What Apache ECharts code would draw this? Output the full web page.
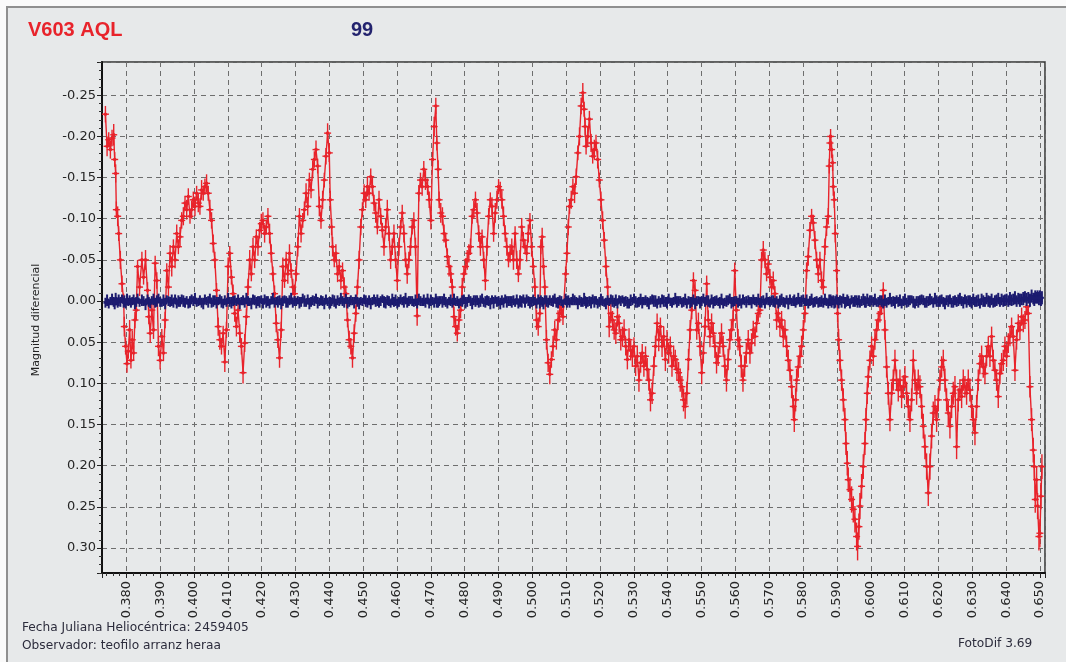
<!DOCTYPE html>
<html>
<head>
<meta charset="utf-8">
<script src="https://cdn.jsdelivr.net/npm/echarts@6/dist/echarts.min.js"></script>
<style>
  html, body { margin: 0; padding: 0; background: #fafafa; }
  #chart { width: 1066px; height: 662px; }
</style>
</head>
<body>
<div id="chart"></div>
<script>
// Heliocentric Julian Date (fraction of day after 2459405) of each frame
const jd = [
  .37383,.37432,.37481,.37530,.37579,.37628,.37657,.37686,.37706,.37745,
  .37775,.37824,.37873,.37922,.37941,.37980,.38020,.38059,.38098,.38137,
  .38176,.38216,.38255,.38294,.38333,.38392,.38461,.38510,.38568,.38627,
  .38666,.38706,.38755,.38804,.38853,.38902,.38951,.39000,.39049,.39098,
  .39147,.39196,.39245,.39294,.39343,.39392,.39441,.39490,.39539,.39588,
  .39637,.39686,.39735,.39784,.39833,.39882,.39931,.39980,.40029,.40078,
  .40127,.40176,.40225,.40274,.40323,.40372,.40421,.40470,.40519,.40568,
  .40617,.40666,.40715,.40764,.40813,.40862,.40911,.40960,.41009,.41058,
  .41107,.41156,.41205,.41254,.41303,.41352,.41401,.41450,.41499,.41548,
  .41597,.41646,.41695,.41744,.41793,.41842,.41891,.41940,.41989,.42038,
  .42087,.42136,.42185,.42234,.42283,.42332,.42381,.42430,.42479,.42528,
  .42577,.42626,.42675,.42724,.42773,.42822,.42871,.42920,.42969,.43018,
  .43067,.43116,.43165,.43214,.43263,.43312,.43361,.43410,.43459,.43508,
  .43557,.43606,.43655,.43704,.43753,.43802,.43851,.43900,.43949,.43998,
  .44027,.44067,.44096,.44145,.44194,.44243,.44292,.44341,.44390,.44439,
  .44488,.44537,.44586,.44635,.44684,.44733,.44782,.44831,.44880,.44929,
  .44978,.45027,.45076,.45125,.45174,.45223,.45272,.45321,.45370,.45419,
  .45468,.45517,.45566,.45615,.45664,.45713,.45762,.45811,.45860,.45909,
  .45958,.46007,.46056,.46105,.46154,.46203,.46252,.46301,.46350,.46399,
  .46448,.46497,.46546,.46595,.46644,.46693,.46742,.46791,.46840,.46902,
  .46951,.47000,.47049,.47098,.47146,.47176,.47215,.47244,.47293,.47342,
  .47390,.47439,.47488,.47537,.47586,.47634,.47683,.47732,.47781,.47830,
  .47878,.47927,.47976,.48025,.48074,.48122,.48171,.48220,.48269,.48318,
  .48366,.48415,.48464,.48513,.48562,.48610,.48659,.48708,.48757,.48806,
  .48854,.48903,.48952,.49001,.49050,.49098,.49147,.49196,.49245,.49294,
  .49342,.49391,.49440,.49489,.49538,.49586,.49635,.49684,.49733,.49782,
  .49830,.49879,.49928,.49977,.50026,.50074,.50123,.50172,.50221,.50250,
  .50289,.50328,.50367,.50416,.50465,.50514,.50562,.50611,.50660,.50709,
  .50758,.50806,.50855,.50904,.50982,.51021,.51060,.51099,.51148,.51197,
  .51246,.51294,.51343,.51392,.51441,.51490,.51529,.51558,.51587,.51636,
  .51685,.51734,.51782,.51831,.51880,.51929,.51978,.52026,.52075,.52124,
  .52173,.52222,.52270,.52319,.52368,.52417,.52466,.52514,.52563,.52612,
  .52661,.52710,.52758,.52807,.52856,.52905,.52954,.53002,.53051,.53100,
  .53149,.53198,.53246,.53295,.53344,.53393,.53442,.53490,.53539,.53588,
  .53637,.53686,.53734,.53783,.53832,.53881,.53930,.53978,.54027,.54076,
  .54125,.54174,.54222,.54271,.54320,.54369,.54418,.54466,.54515,.54564,
  .54613,.54662,.54710,.54759,.54808,.54857,.54906,.54954,.55003,.55052,
  .55101,.55150,.55198,.55247,.55296,.55345,.55394,.55442,.55491,.55540,
  .55589,.55638,.55686,.55735,.55784,.55833,.55882,.55930,.55979,.56028,
  .56077,.56126,.56174,.56223,.56272,.56321,.56379,.56429,.56478,.56527,
  .56576,.56626,.56675,.56724,.56773,.56823,.56872,.56921,.56970,.57020,
  .57069,.57118,.57167,.57217,.57266,.57315,.57364,.57414,.57463,.57512,
  .57561,.57611,.57660,.57709,.57739,.57778,.57808,.57857,.57906,.57955,
  .58005,.58054,.58103,.58152,.58202,.58251,.58300,.58349,.58399,.58448,
  .58497,.58546,.58596,.58645,.58694,.58743,.58773,.58793,.58812,.58842,
  .58872,.58891,.58921,.58950,.58990,.59019,.59049,.59088,.59137,.59187,
  .59236,.59266,.59305,.59334,.59384,.59433,.59482,.59531,.59581,.59610,
  .59650,.59679,.59728,.59778,.59827,.59856,.59896,.59925,.59975,.60024,
  .60073,.60122,.60172,.60221,.60270,.60319,.60369,.60418,.60467,.60517,
  .60566,.60615,.60664,.60714,.60763,.60812,.60861,.60911,.60960,.61009,
  .61058,.61108,.61157,.61206,.61255,.61305,.61354,.61403,.61452,.61502,
  .61551,.61600,.61649,.61699,.61748,.61797,.61846,.61896,.61945,.61994,
  .62043,.62093,.62142,.62191,.62240,.62290,.62339,.62388,.62437,.62487,
  .62536,.62585,.62634,.62684,.62733,.62782,.62831,.62881,.62930,.62979,
  .63028,.63078,.63127,.63176,.63225,.63275,.63324,.63373,.63422,.63472,
  .63521,.63570,.63619,.63669,.63718,.63767,.63816,.63866,.63915,.63964,
  .64013,.64063,.64112,.64161,.64210,.64260,.64309,.64358,.64407,.64457,
  .64506,.64555,.64604,.64654,.64703,.64752,.64801,.64831,.64860,.64900,
  .64929,.64969,.64998,.65028,.65057
];

// V603 Aql differential magnitude, millimag
const v603Mag = [
  -227,-188,-196,-184,-198,-202,-172,-155,-111,-103,
  -82,-50,-21,-1,31,55,76,61,35,72,
  47,63,23,11,-42,-17,-50,-29,-50,-13,
  19,39,11,35,-46,-25,55,72,43,63,
  23,-37,-17,-58,-42,-66,-50,-82,-66,-78,
  -98,-103,-119,-111,-127,-103,-111,-123,-115,-131,
  -119,-115,-135,-131,-139,-143,-131,-111,-98,-70,
  -50,-13,31,47,55,39,74,35,-42,-58,
  -29,-9,15,31,11,39,55,87,51,19,
  -17,-50,-33,-66,-50,-78,-66,-86,-94,-98,
  -82,-90,-103,-82,-58,-33,-9,27,47,69,
  35,-42,-25,-50,-33,-58,-37,-17,-9,-33,
  -66,-103,-82,-98,-111,-131,-115,-147,-135,-160,
  -172,-184,-164,-115,-98,-123,-147,-176,-204,-180,
  -123,-90,-66,-50,-58,-33,-42,-25,-37,-17,
  -9,23,47,55,69,39,15,-17,-50,-90,
  -111,-131,-123,-139,-131,-151,-139,-119,-107,-90,
  -123,-103,-86,-66,-90,-111,-82,-50,-66,-82,
  -50,-25,-66,-90,-107,-82,-50,-33,-50,-66,
  -90,-98,-66,18,-131,-147,-139,-160,-147,-139,
  -123,-98,-172,-212,-237,-192,-160,-123,-107,-103,
  -82,-74,-54,-42,-33,-17,19,31,39,23,
  11,-17,-33,-42,-50,-58,-66,-103,-111,-123,
  -107,-82,-66,-78,-50,-25,-66,-103,-123,-115,
  -82,-107,-123,-139,-135,-123,-103,-82,-66,-50,
  -58,-66,-50,-82,-50,-33,-50,-90,-74,-66,
  -58,-82,-98,-66,-42,-17,23,31,15,-66,
  -78,-42,-17,47,75,89,71,55,35,47,
  23,15,7,19,-33,-58,-90,-115,-123,-139,
  -131,-151,-180,-200,-237,-253,-233,-212,-188,-200,
  -221,-192,-176,-184,-192,-172,-147,-123,-98,-74,
  -42,-17,31,15,23,35,39,19,27,47,
  43,35,55,71,47,60,67,55,79,67,
  96,75,63,79,67,83,96,120,112,79,
  55,27,47,31,55,43,71,47,63,55,
  79,67,71,83,87,96,104,120,128,112,
  71,35,11,-25,-13,35,27,55,87,63,
  31,-21,23,43,27,39,55,75,67,51,
  39,55,79,96,71,47,35,23,-37,11,
  47,55,79,96,79,63,47,63,51,35,
  43,27,15,11,-50,-62,-50,-33,-45,-29,
  -17,-25,-9,23,15,31,23,43,35,55,
  72,84,104,128,144,120,96,80,67,55,
  35,15,-37,-54,-86,-103,-95,-74,-50,-33,
  -50,-25,-17,-66,-90,-103,-164,-192,-200,-184,
  -168,-139,-123,-82,-37,15,47,72,96,120,
  144,173,197,217,229,241,253,265,286,298,
  274,249,225,201,173,144,112,92,72,55,
  67,47,35,23,15,7,-13,35,80,112,
  144,112,96,72,96,108,96,116,104,92,
  112,128,144,120,72,96,112,96,104,128,
  152,177,201,233,201,164,136,128,144,120,
  96,80,72,96,120,136,152,128,112,104,
  177,120,108,116,96,104,112,96,108,128,
  144,160,128,96,76,67,80,88,67,55,
  67,43,72,84,96,116,88,76,72,55,
  67,51,43,31,43,84,47,27,35,19,
  27,23,7,15,104,144,181,201,241,217,
  249,286,282,237,201
];

// V603 Aql photometric error, millimag
const v603Err = [
  10,12,9,11,10,13,9,11,10,12,
  9,11,10,8,12,10,11,9,12,10,
  11,9,10,12,8,11,10,9,12,10,
  9,12,10,11,9,10,12,11,9,10,
  10,9,11,10,12,9,10,11,9,12,
  10,11,9,12,10,9,11,10,12,9,
  11,10,12,9,10,11,9,12,10,11,
  10,9,11,12,10,9,12,10,11,9,
  9,11,10,12,9,11,10,13,11,10,
  10,12,9,11,10,9,11,10,12,10,
  11,9,10,12,11,9,10,11,10,12,
  10,11,9,10,12,11,9,10,11,9,
  12,10,11,9,10,12,11,9,10,11,
  10,11,9,12,10,11,9,10,12,11,
  11,10,12,9,11,10,9,11,10,12,
  10,9,11,10,12,11,10,9,11,10,
  9,11,10,12,9,10,11,10,12,9,
  11,10,9,11,10,12,9,11,10,11,
  10,12,11,9,10,11,9,12,10,11,
  9,10,11,12,10,9,11,10,12,10,
  10,11,9,12,10,9,11,10,12,11,
  11,9,10,12,11,10,12,11,10,12,
  10,11,9,10,12,11,10,9,11,10,
  12,10,11,9,10,12,11,10,9,11,
  10,12,11,9,10,11,12,10,11,9,
  11,10,12,9,11,10,12,11,10,9,
  10,11,9,12,10,11,12,11,10,9,
  11,10,9,12,11,12,10,13,11,12,
  12,11,12,10,9,11,10,9,11,10,
  12,10,9,11,10,12,9,11,10,12,
  10,11,9,12,10,11,9,10,11,10,
  12,11,13,12,11,12,13,12,11,13,
  12,13,11,12,14,12,13,11,12,13,
  14,12,11,13,12,14,13,14,13,12,
  13,12,14,11,13,12,14,12,13,12,
  13,13,12,14,13,14,13,14,15,14,
  13,12,11,10,11,12,13,12,14,13,
  12,10,12,13,12,13,14,13,12,13,
  12,13,14,14,13,12,11,12,10,11,
  13,12,14,14,13,13,12,13,12,11,
  12,11,10,9,10,11,10,9,11,10,
  10,11,9,12,11,12,11,13,12,13,
  13,13,14,14,15,14,14,13,13,13,
  12,11,10,11,10,9,10,11,10,11,
  10,11,9,10,11,10,9,10,9,10,
  10,11,10,11,12,11,13,13,13,14,
  14,14,15,15,15,16,16,16,17,17,
  16,16,15,15,14,14,13,13,12,12,
  12,12,12,11,11,10,10,12,13,14,
  14,14,13,13,13,14,13,14,14,13,
  14,14,15,14,13,13,14,13,14,15,
  15,15,16,16,16,15,14,14,15,14,
  13,13,13,14,14,15,15,14,14,13,
  15,14,13,14,13,13,14,13,14,14,
  14,15,14,13,13,13,13,13,12,12,
  13,12,13,13,13,14,13,13,13,12,
  13,12,12,11,12,13,12,11,12,11,
  11,11,10,10,13,14,15,15,16,16,
  16,17,17,16,15
];

// Check star differential magnitude, millimag (same frames)
const checkMag = [
  2,-1,3,0,-2,1,4,-3,0,2,
  -1,1,-3,2,0,3,-2,1,-1,2,
  0,-2,3,1,-3,2,-1,0,4,-2,
  1,3,-1,-2,2,0,-3,1,2,-1,
  3,-2,0,1,-1,2,-3,3,0,1,
  -2,0,2,-1,3,1,-2,0,-3,2,
  1,-1,2,3,-2,0,1,-3,2,0,
  -1,2,0,-2,1,3,-1,2,-3,1,
  2,0,-1,1,-2,3,0,-1,2,-3,
  0,1,3,-2,-1,2,0,1,-2,3,
  -2,1,0,3,-1,-3,2,0,1,-1,
  3,0,-2,1,2,-1,-3,2,0,1,
  -1,2,1,-3,0,2,-2,3,1,-1,
  0,-3,2,1,-1,0,3,-2,1,2,
  2,1,-2,0,3,-1,1,-3,0,2,
  -3,2,1,-1,0,2,-2,1,3,0,
  1,-2,0,2,-1,3,0,-2,1,-1,
  2,0,-3,1,2,-1,0,3,-2,1,
  -1,3,1,-2,0,1,-3,2,0,-1,
  0,2,-1,3,-2,0,1,-1,2,-3,
  3,-1,0,2,-3,1,2,0,-1,1,
  -2,1,3,0,-1,2,-2,1,0,3,
  1,0,-2,2,1,-3,0,3,-1,0,
  -1,2,0,-3,2,1,-1,0,3,-2,
  2,-2,1,0,3,-1,2,-3,1,0,
  0,1,-1,2,-2,3,0,1,-3,2,
  -3,0,2,1,-1,0,3,-2,2,-1,
  1,3,-2,0,2,-1,1,0,-3,2,
  2,-1,0,3,-2,1,-1,2,0,-2,
  -1,0,3,-1,1,2,-3,0,2,1,
  0,2,-2,1,-1,3,1,-2,0,2,
  3,-1,1,-2,0,2,-1,3,-2,0,
  -2,1,0,2,3,-1,0,-3,1,2,
  1,-2,2,0,-1,1,3,-1,-2,0,
  0,3,-1,2,-2,0,1,2,-3,1,
  2,0,-3,1,0,-1,2,1,-2,3,
  -1,2,1,-2,3,0,-1,2,0,-3,
  1,-1,0,3,-2,2,0,-1,1,2,
  -2,3,1,0,-1,-3,2,1,0,-1,
  2,-1,3,-2,0,1,-1,0,2,-2,
  0,1,-2,2,1,-1,3,-3,0,1,
  -1,0,2,-1,3,0,-2,1,2,-2,
  3,-2,1,0,-1,2,0,-3,1,0,
  -2,1,-1,3,0,-2,2,1,-1,2,
  1,0,2,-2,1,3,-1,0,-2,1,
  0,-1,3,1,-2,0,2,-1,1,-3,
  2,1,-1,0,3,-2,1,0,-1,2,
  -1,3,0,-2,1,2,-3,1,0,-1,
  1,-2,2,1,-1,0,3,-1,2,0,
  -3,1,0,2,-2,1,-1,3,0,-2,
  2,0,-1,-2,1,3,0,1,-1,-2,
  -1,2,1,0,-2,-1,2,-3,0,1,
  0,-2,1,3,-1,0,-2,2,1,-1,
  1,-1,-3,0,2,-2,1,-1,0,2,
  -2,1,0,-1,3,-2,0,1,-3,0,
  1,-2,2,0,-1,-3,1,-2,0,-1,
  -2,0,-3,-1,-2,-4,0,-3,-1,-2,
  -3,-5,-2,-4,-1,-6,-3,-2,-5,-4,
  -5,-3,-6,-2,-4
];

// Check star photometric error, millimag
const checkErr = [
  6,7,6,5,7,6,6,7,5,6,
  7,6,5,6,7,6,7,5,6,6,
  5,6,7,6,6,5,7,6,7,6,
  6,6,5,7,6,7,6,6,5,7,
  7,5,6,6,7,6,5,6,7,6,
  6,7,6,5,6,7,6,6,7,5,
  5,6,6,7,6,5,7,6,6,7,
  6,7,5,6,7,6,6,5,7,6,
  7,6,6,5,6,7,5,6,6,7,
  6,5,7,6,6,7,6,7,5,6,
  6,7,6,6,5,7,6,5,7,6,
  7,6,5,7,6,6,7,6,6,5,
  5,7,6,6,7,5,6,7,6,6,
  6,6,7,5,6,6,7,6,5,7,
  7,5,6,7,6,6,5,7,6,6,
  6,7,6,6,5,7,6,6,7,5,
  5,6,7,6,6,7,5,6,6,7,
  6,6,5,7,7,6,6,5,7,6,
  7,6,6,6,5,7,7,6,6,5,
  6,5,7,6,7,6,5,7,6,6,
  6,7,5,6,6,7,6,6,5,7,
  7,6,6,5,7,6,7,5,6,6,
  5,7,6,7,6,5,6,7,6,7,
  6,6,7,6,5,7,6,6,7,5,
  7,5,6,6,7,6,6,5,7,6,
  6,7,6,5,6,6,7,7,5,6,
  5,6,7,6,7,5,6,6,7,6,
  6,7,5,7,6,6,5,7,6,6,
  7,6,6,5,7,7,6,6,5,7,
  6,5,7,6,6,5,7,6,7,6,
  6,7,6,7,5,6,6,7,6,5,
  7,6,5,6,7,6,7,6,5,6,
  5,6,6,7,6,7,5,6,7,6,
  6,7,7,5,6,6,7,5,6,7,
  7,6,5,6,6,7,6,7,6,5,
  6,5,7,7,6,5,6,6,7,6,
  5,7,6,6,7,6,5,7,6,6,
  6,6,7,5,6,7,6,6,5,7,
  7,6,5,7,6,6,7,6,6,5,
  6,7,6,6,5,7,6,5,7,6,
  5,6,7,6,7,6,6,7,5,6,
  6,7,6,5,6,7,7,6,6,5,
  7,6,5,6,7,6,5,7,6,7,
  6,5,7,6,6,7,6,6,5,6,
  6,7,6,7,5,6,7,6,6,7,
  5,6,6,7,6,5,7,6,7,6,
  7,6,7,6,6,5,6,7,6,6,
  6,5,6,7,7,6,6,5,7,6,
  6,7,5,6,6,7,6,7,6,5,
  7,6,6,7,5,6,7,6,6,7,
  6,7,6,5,7,6,6,7,6,6,
  6,6,7,6,7,5,6,7,7,6,
  7,6,6,7,6,7,6,6,7,6,
  6,7,7,6,7,6,7,6,7,7,
  7,6,7,7,6,7,7,6,7,7,
  7,7,6,7,7,7,6,7,7,7,
  7,7,8,7,7,8,7,7,8,7,
  8,7,8,7,8,8,7,8,8,7,
  8,8,7,8,8
];

// Axis extents (days, magnitudes)
const xMin = 0.37282, xMax = 0.65148;
const yMin = -0.2904, yMax = 0.3303;

const RED = '#e8232b';
const NAVY = '#1c1b70';

const varLine = jd.map((t, i) => [t, v603Mag[i] / 1000]);
const varBars = jd.map((t, i) => [t, v603Mag[i] / 1000, v603Err[i] / 1000]);
const chkLine = jd.map((t, i) => [t, checkMag[i] / 1000]);
const chkBars = jd.map((t, i) => [t, checkMag[i] / 1000, checkErr[i] / 1000]);

// vertical error bar + small horizontal tick + dot at each measurement
function errorBars(color, width, capHalf, dotR) {
  return function (params, api) {
    const x = api.value(0), y = api.value(1), e = api.value(2);
    const top = api.coord([x, y - e]);
    const bot = api.coord([x, y + e]);
    const c = api.coord([x, y]);
    const children = [
      { type: 'line', shape: { x1: top[0], y1: top[1], x2: bot[0], y2: bot[1] },
        style: { stroke: color, lineWidth: width } },
      { type: 'line', shape: { x1: c[0] - capHalf, y1: c[1], x2: c[0] + capHalf, y2: c[1] },
        style: { stroke: color, lineWidth: width } }
    ];
    if (dotR) {
      children.push({ type: 'circle', shape: { cx: c[0], cy: c[1], r: dotR }, style: { fill: color } });
    }
    return { type: 'group', children };
  };
}

const tickFont = { fontFamily: 'DejaVu Sans', fontSize: 13, color: '#262626' };
const gridDash = { color: '#6e6e6e', width: 1, type: [5, 4] };

const chart = echarts.init(document.getElementById('chart'), null, { renderer: 'canvas' });

chart.setOption({
  animation: false,
  backgroundColor: '#fafafa',
  graphic: [
    { type: 'rect', z: -10, silent: true,
      shape: { x: 7, y: 7, width: 1080, height: 680 },
      style: { fill: '#e7e9ea', stroke: '#8f8f8f', lineWidth: 2 } },
    { type: 'text', left: 28, top: 20, silent: true,
      style: { text: 'V603 AQL', fill: '#e8232b', font: 'bold 20px "Liberation Sans", Arial, sans-serif' } },
    { type: 'text', left: 351, top: 20, silent: true,
      style: { text: '99', fill: '#23236e', font: 'bold 20px "Liberation Sans", Arial, sans-serif' } },
    { type: 'text', x: 36, y: 320, rotation: Math.PI / 2, silent: true,
      style: { text: 'Magnitud diferencial', fill: '#222', font: '11px "DejaVu Sans", sans-serif',
               align: 'center', verticalAlign: 'middle' } },
    { type: 'text', left: 22, top: 622, silent: true,
      style: { text: 'Fecha Juliana Heliocéntrica: 2459405', fill: '#2c2c3c', font: '12.2px "DejaVu Sans", sans-serif' } },
    { type: 'text', left: 22, top: 640, silent: true,
      style: { text: 'Observador: teofilo arranz heraa', fill: '#2c2c3c', font: '12.2px "DejaVu Sans", sans-serif' } },
    { type: 'text', left: 958, top: 638, silent: true,
      style: { text: 'FotoDif 3.69', fill: '#2c2c3c', font: '12.2px "DejaVu Sans", sans-serif' } }
  ],
  grid: {
    left: 102, right: 21, top: 62, bottom: 89,
    show: true, backgroundColor: 'transparent', borderColor: '#333', borderWidth: 1.5
  },
  xAxis: {
    type: 'value', min: xMin, max: xMax, splitNumber: 28,
    axisLine: { show: true, onZero: false, lineStyle: { color: '#111', width: 2 } },
    axisTick: { show: true, inside: false, length: 5, lineStyle: { color: '#222' } },
    minorTick: { show: true, splitNumber: 5, length: 3, lineStyle: { color: '#333' } },
    splitLine: { show: true, lineStyle: gridDash },
    axisLabel: Object.assign({
      rotate: 90, margin: 8, showMinLabel: false, showMaxLabel: false,
      formatter: v => v.toFixed(3)
    }, tickFont)
  },
  yAxis: {
    type: 'value', inverse: true, min: yMin, max: yMax, splitNumber: 12,
    axisLine: { show: true, onZero: false, lineStyle: { color: '#111', width: 2 } },
    axisTick: { show: true, inside: false, length: 5, lineStyle: { color: '#222' } },
    minorTick: { show: true, splitNumber: 5, length: 3, lineStyle: { color: '#333' } },
    splitLine: { show: true, lineStyle: gridDash },
    axisLabel: Object.assign({
      margin: 6, showMinLabel: false, showMaxLabel: false,
      formatter: v => v.toFixed(2)
    }, tickFont)
  },
  series: [
    { name: 'V603 AQL err', type: 'custom', z: 2, clip: true,
      renderItem: errorBars(RED, 1.4, 3.5, 1.8), encode: { x: 0, y: 1 }, data: varBars },
    { name: 'V603 AQL', type: 'line', z: 3, data: varLine, symbol: 'none', clip: true,
      lineStyle: { color: RED, width: 1.4 } },
    { name: 'Check err', type: 'custom', z: 4, clip: true,
      renderItem: errorBars(NAVY, 2, 2, 0), encode: { x: 0, y: 1 }, data: chkBars },
    { name: 'Check', type: 'line', z: 5, data: chkLine, symbol: 'none', clip: true,
      lineStyle: { color: NAVY, width: 3 } }
  ]
});
</script>
</body>
</html>
